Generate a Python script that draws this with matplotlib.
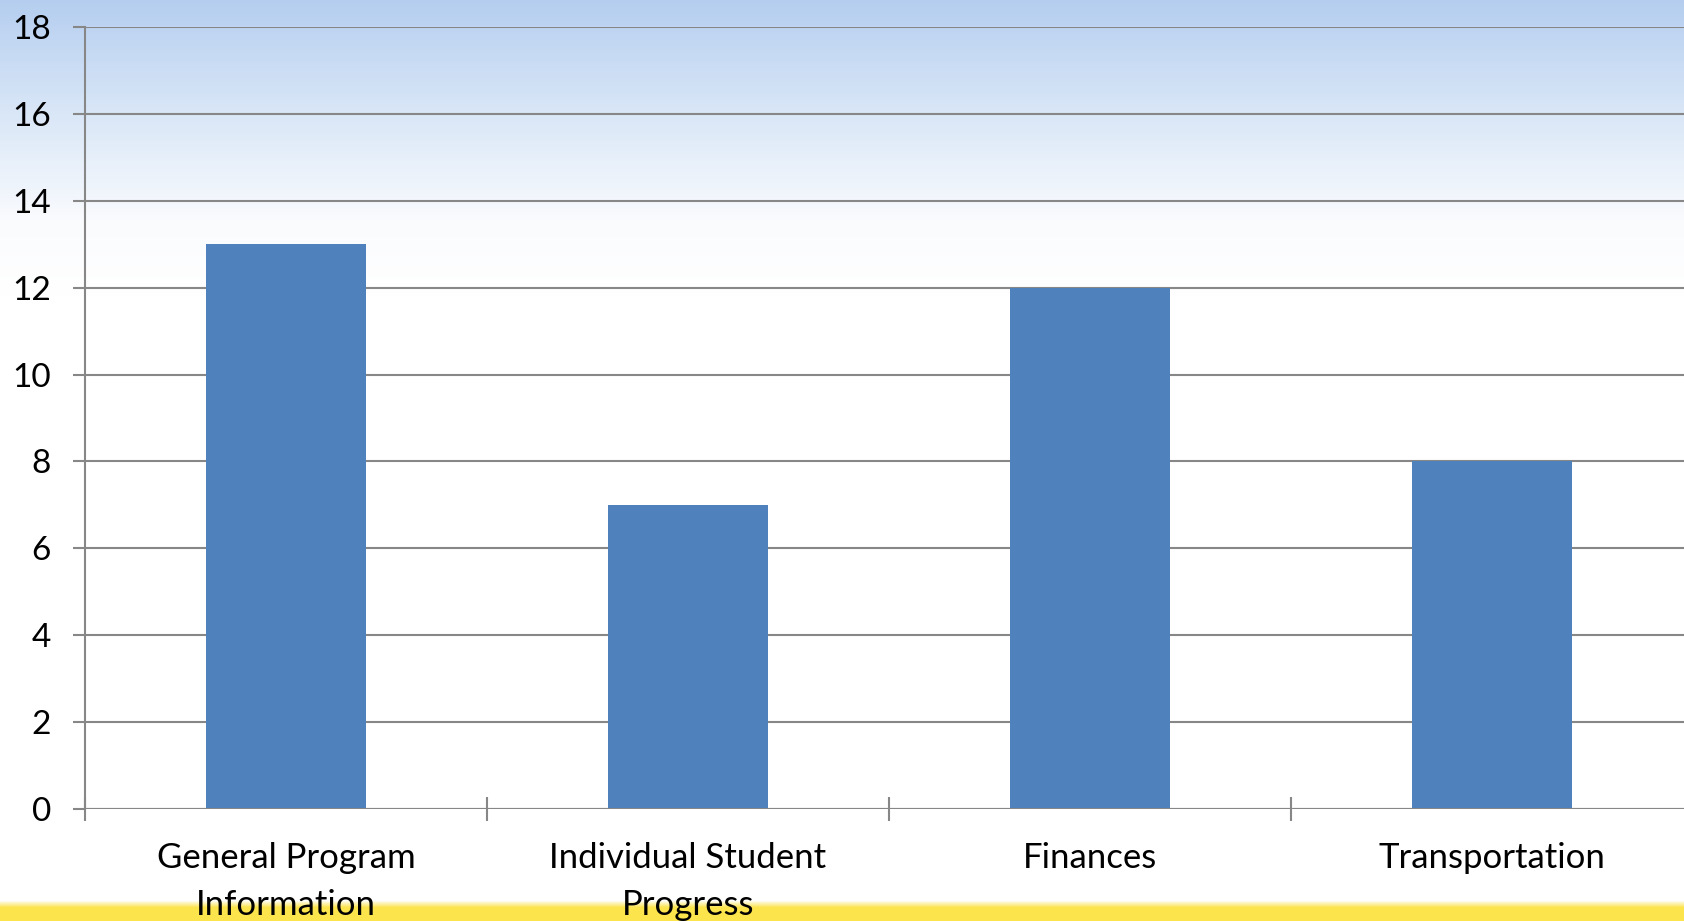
import numpy as np
import matplotlib.pyplot as plt
from matplotlib.colors import LinearSegmentedColormap

# Chart data
categories = ["General Program\nInformation", "Individual Student\nProgress", "Finances", "Transportation"]
counts = [13, 7, 12, 8]
y_ticks = [0, 2, 4, 6, 8, 10, 12, 14, 16, 18]

bar_color = "#4F81BD"
grid_color = "#878787"

plt.rcParams['font.family'] = ['Lato', 'DejaVu Sans']

fig = plt.figure(figsize=(16.84, 9.21), dpi=100)

# Slide background: blue sky fading to white, yellow strip along the bottom
bg = fig.add_axes([0, 0, 1, 1], zorder=-10)
bg.set_axis_off()
H = 921
rows = np.arange(H)
sky = LinearSegmentedColormap.from_list(
    "sky", [(0.0, (0.71, 0.81, 0.94)), (0.13, (0.86, 0.91, 0.97)),
            (0.24, (0.98, 0.985, 0.995)), (0.32, (1, 1, 1)), (1.0, (1, 1, 1))])
img = sky(rows / H)[:, :3]
yellow = np.array([0.99, 0.895, 0.30])
fade = np.clip((rows - 900) / 7.0, 0, 1)[:, None]
img = img * (1 - fade) + yellow * fade
bg.imshow(img[:, None, :], aspect="auto", extent=[0, 1, 0, 1], interpolation="bilinear")
bg.set_xlim(0, 1)
bg.set_ylim(0, 1)

ax = fig.add_axes([85 / 1684, 112 / 921, 1608 / 1684, 782 / 921])
ax.patch.set_alpha(0)

x = np.arange(len(categories))
ax.bar(x, counts, width=0.4, color=bar_color, zorder=3)

ax.set_xlim(-0.5, len(categories) - 0.5)
ax.set_ylim(0, 18)
ax.set_yticks(y_ticks)
ax.yaxis.grid(True, color=grid_color, linewidth=1.5, zorder=0)
ax.set_axisbelow(True)

for side in ["top", "right", "bottom"]:
    ax.spines[side].set_visible(False)
ax.spines["left"].set_color(grid_color)
ax.spines["left"].set_linewidth(1.5)
ax.axhline(0, color=grid_color, linewidth=1.5, zorder=4)

ax.tick_params(axis="y", length=8.5, width=1.5, color=grid_color, pad=16, labelsize=24)

# category boundaries get the tick marks, centres get the labels
ax.set_xticks(np.arange(len(categories) + 1) - 0.5)
ax.set_xticklabels([])
ax.tick_params(axis="x", which="major", direction="inout", length=17, width=1.5, color=grid_color)
ax.set_xticks(x, minor=True)
ax.set_xticklabels(categories, minor=True, fontsize=25, linespacing=1.58)
ax.tick_params(axis="x", which="minor", length=0, pad=23.5)

fig.savefig("out.png", dpi=100)
